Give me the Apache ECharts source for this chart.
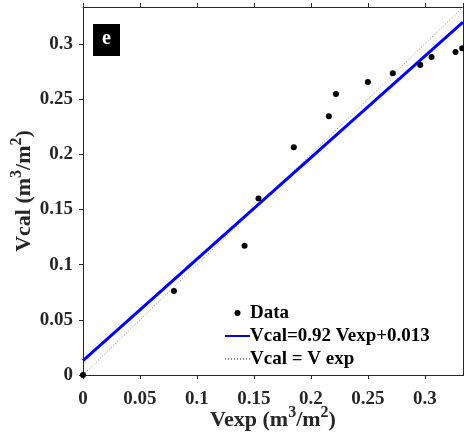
<!DOCTYPE html>
<html>
<head>
<meta charset="utf-8">
<style>
  html, body { margin: 0; padding: 0; background: #fff; }
  #chart { width: 464px; height: 432px; }
</style>
<script src="https://cdn.jsdelivr.net/npm/echarts@6/dist/echarts.min.js"></script>
</head>
<body>
<div id="chart"></div>
<script>
// Measured vs. calculated volume per area
const vexp = [0, 0.0798, 0.1418, 0.154, 0.185, 0.2158, 0.222, 0.250, 0.2719, 0.296, 0.3059, 0.3269, 0.3328];
const vcal = [0, 0.0762, 0.1171, 0.160, 0.2065, 0.2344, 0.2546, 0.2655, 0.2734, 0.281, 0.2882, 0.2927, 0.2961];

// Linear fit stated in the legend
const fitSlope = 0.92;
const fitIntercept = 0.013;
const fitLabel = 'Vcal=0.92 Vexp+0.013';
const idLabel = 'Vcal = V exp';

const axisMin = 0;
const axisMax = 0.3335;
const tickStep = 0.05;

const scatterData = vexp.map((x, i) => [x, vcal[i]]);
const fitData = [axisMin, axisMax].map(x => [x, fitSlope * x + fitIntercept]);
const idData = [axisMin, axisMax].map(x => [x, x]);

const font = '"Liberation Serif", "Times New Roman", serif';
const ink = '#262626';

function tickFmt(v) {
  const k = Math.round(v / tickStep);
  if (Math.abs(k * tickStep - v) > 1e-6) return '';
  return String(+(k * tickStep).toFixed(2));
}

const baseAxis = {
  min: axisMin, max: axisMax, interval: tickStep,
  axisLine: { show: true, onZero: false, lineStyle: { color: ink, width: 1 } },
  axisTick: { show: true, inside: false, length: 4, lineStyle: { color: ink, width: 1 } },
  splitLine: { show: false },
};

const titleRich = {
  t: { fontFamily: font, fontWeight: 'bold', fontSize: 22, color: ink, lineHeight: 26, verticalAlign: 'bottom' },
  s: { fontFamily: font, fontWeight: 'bold', fontSize: 16, color: ink, lineHeight: 26, verticalAlign: 'top' }
};

const chart = echarts.init(document.getElementById('chart'), null, { renderer: 'canvas' });
chart.setOption({
  animation: false,
  backgroundColor: '#fff',
  grid: { left: 83, right: 1, top: 7, bottom: 57, containLabel: false, outerBoundsMode: 'none' },
  xAxis: [
    Object.assign({}, baseAxis, {
      type: 'value', position: 'bottom',
      name: '{t|Vexp (m}{s|3}{t|/m}{s|2}{t|)}',
      nameLocation: 'middle', nameGap: 30, nameMoveOverlap: false,
      nameTextStyle: { rich: titleRich },
      axisLabel: {
        show: true, margin: 15, showMaxLabel: false,
        fontFamily: font, fontWeight: 'bold', fontSize: 19, color: ink,
        formatter: tickFmt
      }
    }),
    Object.assign({}, baseAxis, {
      type: 'value', position: 'top',
      axisLabel: { show: false }
    })
  ],
  yAxis: [
    Object.assign({}, baseAxis, {
      type: 'value', position: 'left',
      name: '{t|Vcal (m}{s|3}{t|/m}{s|2}{t|)}',
      nameLocation: 'middle', nameGap: 48, nameRotate: 90, nameMoveOverlap: false,
      nameTextStyle: { rich: titleRich },
      axisLabel: {
        show: true, margin: 10, showMaxLabel: false,
        fontFamily: font, fontWeight: 'bold', fontSize: 19, color: ink,
        formatter: tickFmt
      }
    }),
    Object.assign({}, baseAxis, {
      type: 'value', position: 'right',
      axisLabel: { show: false }
    })
  ],
  legend: {
    orient: 'vertical',
    left: 224, top: 302, padding: 0,
    itemWidth: 25, itemHeight: 6, itemGap: 1,
    textStyle: { fontFamily: font, fontWeight: 'bold', fontSize: 19, lineHeight: 22, color: '#000', padding: [0, 0, 0, -5] },
    data: [
      { name: 'Data', icon: 'circle', itemStyle: { color: '#000', opacity: 1 } },
      { name: fitLabel, itemStyle: { opacity: 0 } },
      { name: idLabel, itemStyle: { opacity: 0 } }
    ]
  },
  graphic: [
    {
      type: 'group', left: 93, top: 24,
      children: [
        { type: 'rect', shape: { x: 0, y: 0, width: 27, height: 32 }, style: { fill: '#000' } },
        { type: 'text', x: 13.5, y: 15, style: { text: 'e', fill: '#fff', font: 'bold 20px ' + font, align: 'center', verticalAlign: 'middle' } }
      ]
    }
  ],
  series: [
    {
      name: idLabel, type: 'line', data: idData, symbol: 'none',
      lineStyle: { color: '#8c8c8c', width: 1, type: [1, 2] }, z: 2
    },
    {
      name: fitLabel, type: 'line', data: fitData, symbol: 'none',
      lineStyle: { color: '#0000ff', width: 3 }, z: 3
    },
    {
      name: 'Data', type: 'scatter', data: scatterData,
      symbol: 'circle', symbolSize: 6,
      itemStyle: { color: '#000', opacity: 1 }, z: 4
    }
  ]
});
</script>
</body>
</html>
